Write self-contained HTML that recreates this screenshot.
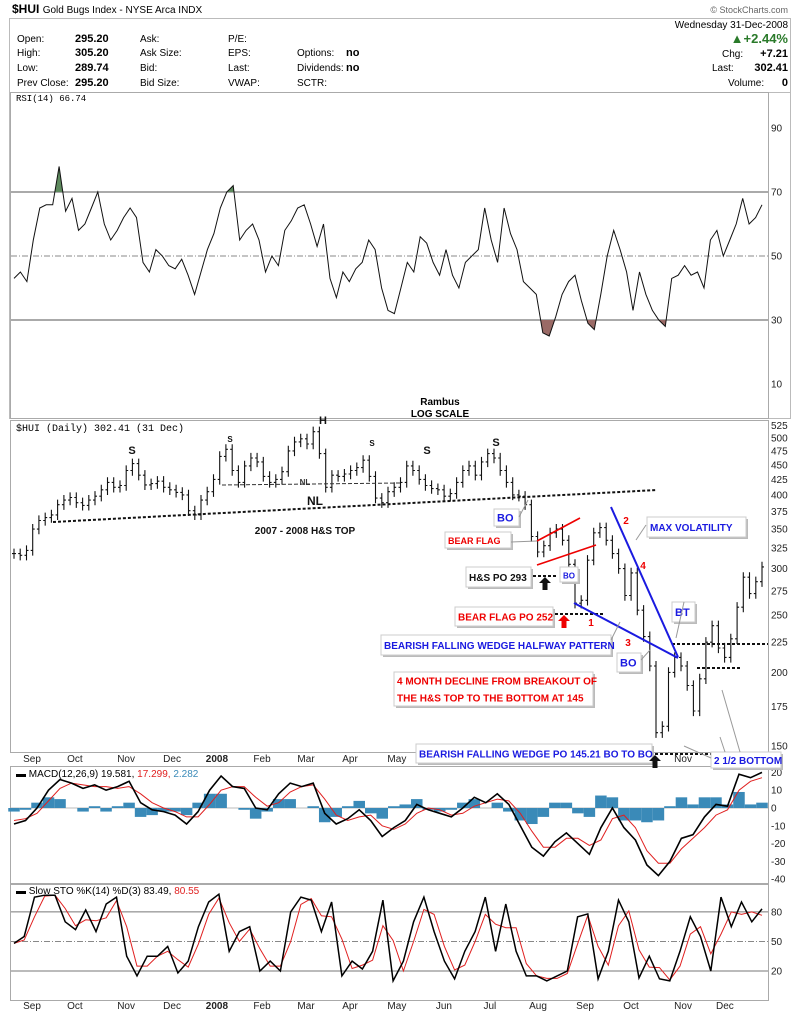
<!DOCTYPE html>
<html><head><meta charset="utf-8">
<style>
body{margin:0;background:#fff;}
svg{display:block;font-family:"Liberation Sans",sans-serif;}
.ax{font-size:10px;fill:#222;}
</style></head>
<body>
<svg id="c" width="800" height="1015" viewBox="0 0 800 1015">
<g>
<text x="12" y="13" font-size="12" font-weight="bold">$HUI <tspan font-size="10" font-weight="normal">Gold Bugs Index - NYSE Arca INDX</tspan></text>
<text x="788" y="13" font-size="9" fill="#666" text-anchor="end">© StockCharts.com</text>
<rect x="9.5" y="18.5" width="781" height="400" fill="none" stroke="#bbb"/>
<g font-size="10">
<text x="17" y="42">Open:</text><text x="75" y="42" font-weight="bold" font-size="11">295.20</text>
<text x="17" y="56">High:</text><text x="75" y="56" font-weight="bold" font-size="11">305.20</text>
<text x="17" y="71">Low:</text><text x="75" y="71" font-weight="bold" font-size="11">289.74</text>
<text x="17" y="86">Prev Close:</text><text x="75" y="86" font-weight="bold" font-size="11">295.20</text>
<text x="140" y="42">Ask:</text><text x="140" y="56">Ask Size:</text><text x="140" y="71">Bid:</text><text x="140" y="86">Bid Size:</text>
<text x="228" y="42">P/E:</text><text x="228" y="56">EPS:</text><text x="228" y="71">Last:</text><text x="228" y="86">VWAP:</text>
<text x="297" y="56">Options:</text><text x="346" y="56" font-weight="bold" font-size="11">no</text>
<text x="297" y="71">Dividends:</text><text x="346" y="71" font-weight="bold" font-size="11">no</text>
<text x="297" y="86">SCTR:</text>
<text x="788" y="28" text-anchor="end">Wednesday  31-Dec-2008</text>
<text x="788" y="43" text-anchor="end" font-size="13" font-weight="bold" fill="#2a7a2a">▲+2.44%</text>
<text x="722" y="57">Chg:</text><text x="788" y="57" text-anchor="end" font-weight="bold" font-size="11">+7.21</text>
<text x="712" y="71">Last:</text><text x="788" y="71" text-anchor="end" font-weight="bold" font-size="11">302.41</text>
<text x="728" y="86">Volume:</text><text x="788" y="86" text-anchor="end" font-weight="bold" font-size="11">0</text>
</g>
<line x1="10" y1="92.5" x2="790" y2="92.5" stroke="#bbb"/>
<text x="16" y="101" font-size="9" font-family="Liberation Mono">RSI(14) 66.74</text>
</g>
<g id="rsi"></g>
<g id="price"></g>
<g id="macd"></g>
<g id="sto"></g>
<g id="ann"></g>
</svg>
<script>
const closes=[318,316,322,350,362,366,370,385,392,396,388,384,392,398,408,420,412,415,440,452,432,416,418,422,412,408,404,400,376,370,392,405,425,465,478,440,420,448,462,455,430,420,425,438,475,492,498,488,512,470,412,432,430,434,440,445,458,430,395,388,405,412,420,448,440,425,415,410,408,398,402,420,440,448,432,455,470,462,440,420,400,398,385,340,320,328,345,350,335,305,262,265,310,345,352,335,318,300,270,295,255,230,205,158,162,200,212,205,190,172,195,225,240,220,212,228,258,290,272,285,302];
const rsiVals=[43,45,42,55,65,66,66,78,64,68,58,60,65,70,60,55,58,62,65,62,48,45,52,50,47,46,49,44,38,45,52,57,65,70,72,55,58,60,55,45,50,47,58,61,65,66,60,53,60,43,37,45,42,46,48,55,52,40,33,32,40,48,45,56,54,48,44,52,44,40,48,50,52,65,55,48,65,57,52,42,40,38,26,25,31,38,42,44,36,29,27,38,50,58,52,45,33,45,38,33,30,28,43,44,47,44,45,40,55,58,50,55,60,68,60,62,66];
const macdVals=[-9,-7,0,10,16,14,11,13,10,12,15,3,-1,-2,-4,-9,-2,10,18,12,11,0,-1,8,14,12,14,-3,-9,-6,-1,-7,-16,-11,-7,2,-1,-3,-5,0,6,3,8,2,-10,-22,-27,-19,-14,-20,-26,-11,0,-11,-18,-32,-38,-30,-17,-15,-5,2,1,19,17,20];
const signalVals=[-7,-6,-3,4,11,14,13,12,12,11,12,8,3,0,-2,-5,-5,2,10,12,12,6,1,3,9,12,13,5,-4,-7,-5,-4,-10,-12,-9,-3,0,-1,-4,-3,1,3,5,4,-3,-13,-22,-22,-17,-17,-21,-18,-6,-4,-11,-24,-31,-31,-23,-17,-11,-4,-1,10,15,17];
const stoK=[48,55,95,97,97,70,62,82,60,88,95,35,15,35,35,45,18,30,65,90,98,40,60,65,20,30,20,80,95,92,60,90,15,30,22,40,92,10,30,70,95,60,30,12,40,60,95,40,88,40,15,15,10,15,20,75,78,12,40,92,70,13,35,12,10,40,75,55,20,95,65,90,70,83];
const months=["Sep","Oct","Nov","Dec","2008","Feb","Mar","Apr","May","Jun","Jul","Aug","Sep","Oct","Nov","Dec"];
const monthDay=[8.3,28.1,51.7,72.9,93.6,114.4,134.7,155,176.6,198.3,219.5,241.7,263.4,284.6,308.6,327.9];
const totalDays=345;
const priceTicks=[525,500,475,450,425,400,375,350,325,300,275,250,225,200,175,150];
const rsiTicks=[90,70,50,30,10];
const macdTicks=[20,10,0,-10,-20,-30,-40];
const stoTicks=[80,50,20];

const NS="http://www.w3.org/2000/svg";
const X0=14,X1=762;
function mk(tag,attrs,parent,txt){const e=document.createElementNS(NS,tag);for(const k in attrs)e.setAttribute(k,attrs[k]);if(txt!==undefined)e.textContent=txt;parent.appendChild(e);return e;}
function xi(i,n){return X0+i*(X1-X0)/(n-1);}
function xd(d){return X0+d*(X1-X0)/totalDays;}
const yRsi=v=>320-(v-30)*3.2;
const yPrice=v=>746-256*Math.log(v/150);
const yMacd=v=>808-v*1.78;
const ySto=v=>971-(v-20)*0.985;
function axisLabels(g,ticks,yf,name){ticks.forEach(t=>{const e=mk('text',{x:771,y:yf(t)+3.5,class:'ax'},g,String(t));});}
function dateAxis(g,y){months.forEach((m,i)=>{const e=mk('text',{x:xd(monthDay[i]),y:y,class:'ax','text-anchor':'middle','font-weight':m==='2008'?'bold':'normal'},g,m);});}
function frame(g,y0,y1,name){const r=mk('rect',{x:10.5,y:y0+.5,width:758,height:y1-y0,fill:'none',stroke:'#aaa'},g);mk('line',{x1:768.5,y1:y0,x2:768.5,y2:y1,stroke:'#aaa'},g);}
function linePath(arr,yf){return arr.map((v,i)=>(i?'L':'M')+xi(i,arr.length).toFixed(1)+','+yf(v).toFixed(1)).join('');}

// RSI
(function(){const g=document.getElementById('rsi');
frame(g,92,418,'rsi');
[70,30].forEach(v=>mk('line',{x1:11,x2:768,y1:yRsi(v),y2:yRsi(v),stroke:'#777','stroke-width':1.2},g));
mk('line',{x1:11,x2:768,y1:yRsi(50),y2:yRsi(50),stroke:'#888','stroke-dasharray':'6,2,1,2'},g);
const defs=mk('defs',{},g);
const c1=mk('clipPath',{id:'above70'},defs);mk('rect',{x:0,y:0,width:800,height:yRsi(70)},c1);
const c2=mk('clipPath',{id:'below30'},defs);mk('rect',{x:0,y:yRsi(30),width:800,height:200},c2);
const p=linePath(rsiVals,yRsi);const n=rsiVals.length;
const a1=mk('path',{d:p+'L'+xi(n-1,n)+','+yRsi(70)+'L'+X0+','+yRsi(70)+'Z',fill:'#5e8a5e','clip-path':'url(#above70)'},g);

const a2=mk('path',{d:p+'L'+xi(n-1,n)+','+yRsi(30)+'L'+X0+','+yRsi(30)+'Z',fill:'#9a6a66','clip-path':'url(#below30)'},g);

const l=mk('path',{d:p,fill:'none',stroke:'#111','stroke-width':1},g);

axisLabels(g,rsiTicks,yRsi,'rsi');
mk('text',{x:440,y:405,'font-size':10,'font-weight':'bold','text-anchor':'middle'},g,'Rambus');
mk('text',{x:440,y:417,'font-size':10,'font-weight':'bold','text-anchor':'middle'},g,'LOG SCALE');
})();

// Price
(function(){const g=document.getElementById('price');
frame(g,420,752,'price');
mk('text',{x:16,y:431,'font-size':10,'font-family':'Liberation Mono'},g,'$HUI (Daily) 302.41 (31 Dec)');
axisLabels(g,priceTicks,yPrice,'price');
const n=closes.length;
closes.forEach((c,i)=>{const prev=i?closes[i-1]:c;const hi=Math.max(prev,c)*1.02,lo=Math.min(prev,c)*0.98;const x=xi(i,n);
const b=mk('path',{d:`M${x.toFixed(1)},${yPrice(hi).toFixed(1)}V${yPrice(lo).toFixed(1)}M${(x-2).toFixed(1)},${yPrice(prev).toFixed(1)}H${x.toFixed(1)}M${x.toFixed(1)},${yPrice(c).toFixed(1)}H${(x+2).toFixed(1)}`,stroke:'#111','stroke-width':1.1,fill:'none'},g);
});
dateAxis(g,762);
})();

// MACD
(function(){const g=document.getElementById('macd');
frame(g,766,883,'macd');
mk('line',{x1:11,x2:768,y1:yMacd(0),y2:yMacd(0),stroke:'#bbb'},g);
const n=macdVals.length;const w=(X1-X0)/(n-1);
macdVals.forEach((m,i)=>{const h=m-signalVals[i];const y0=yMacd(0),y1=yMacd(h);
const r=mk('rect',{x:xi(i,n)-w/2,y:Math.min(y0,y1),width:w,height:Math.abs(y1-y0),fill:'#3a8ab8'},g);
});
const s=mk('path',{d:linePath(signalVals,yMacd),fill:'none',stroke:'#e02020','stroke-width':1},g);

const m=mk('path',{d:linePath(macdVals,yMacd),fill:'none',stroke:'#000','stroke-width':1.6},g);

axisLabels(g,macdTicks,yMacd,'macd');
const t=mk('text',{x:16,y:777,'font-size':10},g);t.innerHTML='<tspan>▬ MACD(12,26,9) 19.581, </tspan><tspan fill="#e02020">17.299, </tspan><tspan fill="#3a8ab8">2.282</tspan>';
})();

// STO
(function(){const g=document.getElementById('sto');
frame(g,884,1000,'sto');
[80,20].forEach(v=>mk('line',{x1:11,x2:768,y1:ySto(v),y2:ySto(v),stroke:'#777'},g));
mk('line',{x1:11,x2:768,y1:ySto(50),y2:ySto(50),stroke:'#888','stroke-dasharray':'6,2,1,2'},g);
const d=stoK.map((v,i)=>i?(v+stoK[i-1])/2:v);
const dl=mk('path',{d:linePath(d,ySto),fill:'none',stroke:'#e02020','stroke-width':1},g);

const kl=mk('path',{d:linePath(stoK,ySto),fill:'none',stroke:'#000','stroke-width':1.5},g);

axisLabels(g,stoTicks,ySto,'sto');
const t=mk('text',{x:16,y:894,'font-size':10},g);t.innerHTML='<tspan>▬ Slow STO %K(14) %D(3) 83.49, </tspan><tspan fill="#e02020">80.55</tspan>';
dateAxis(g,1009);
})();

// Annotations
(function(){const g=document.getElementById('ann');
const L=(x1,y1,x2,y2,c,w,da)=>mk('line',{x1,y1,x2,y2,stroke:c,'stroke-width':w,'stroke-dasharray':da||'none'},g);
L(53,522,657,490,'#111',2,'3,2');
L(222,485,400,483,'#333',1,'4,2');
L(533,576,558,576,'#111',2,'3,2');
L(555,614,605,614,'#111',2,'3,2');
L(672,644,768,644,'#111',2,'3,2');
L(697,668,740,668,'#111',2,'3,2');
L(650,754,768,754,'#111',2,'3,2');
L(537,541,580,518,'#e00',1.6);L(537,565,596,545,'#e00',1.6);
L(574,603,678,658,'#1a1ae0',2);L(611,507,678,657,'#1a1ae0',2);
const T=(x,y,s,c,sz,anchor)=>mk('text',{x,y,fill:c,'font-size':sz,'font-weight':'bold','text-anchor':anchor||'start'},g,s);
T(132,454,'S','#111',11,'middle');T(230,442,'S','#111',8,'middle');T(323,424,'H','#111',11,'middle');
T(372,446,'S','#111',8,'middle');T(427,454,'S','#111',11,'middle');T(496,446,'S','#111',11,'middle');
T(305,485,'NL','#333',8,'middle');T(315,505,'NL','#111',12,'middle');
T(305,534,'2007 - 2008 H&S TOP','#111',10,'middle');
T(626,524,'2','#e00',10,'middle');T(643,569,'4','#e00',10,'middle');T(591,626,'1','#e00',10,'middle');T(628,646,'3','#e00',10,'middle');
const B=(x,y,w,h,lines,c,sz,name)=>{const gg=mk('g',{},g);
mk('rect',{x:x+2,y:y+2,width:w,height:h,fill:'#bbb'},gg);mk('rect',{x,y,width:w,height:h,fill:'#fff',stroke:'#ccc'},gg);
lines.forEach((s,i)=>mk('text',{x:x+3,y:y+h/lines.length*(i+1)-h/lines.length/2+4,fill:c,'font-size':sz,'font-weight':'bold'},gg,s));};
B(494,509,25,17,['BO'],'#1a1ae0',11,'bo-callout');
B(445,532,66,16,['BEAR FLAG'],'#e00',9,'bear-flag-callout');
B(466,567,65,20,['H&S PO 293'],'#111',10,'hs-po-callout');
B(560,567,18,15,['BO'],'#1a1ae0',8,'bo-small-callout');
B(455,607,98,19,['BEAR FLAG PO 252'],'#e00',10,'bear-flag-po-callout');
B(381,635,230,20,['BEARISH FALLING WEDGE HALFWAY PATTERN'],'#1a1ae0',10,'wedge-halfway-callout');
B(647,517,99,20,['MAX VOLATILITY'],'#1a1ae0',10,'max-volatility-callout');
B(672,602,23,20,['BT'],'#1a1ae0',11,'bt-callout');
B(617,653,24,19,['BO'],'#1a1ae0',11,'bo-lower-callout');
B(394,672,199,34,['4 MONTH DECLINE FROM BREAKOUT OF','THE H&S TOP TO THE BOTTOM AT 145'],'#e00',10,'decline-callout');
B(416,744,236,19,['BEARISH FALLING WEDGE PO 145.21 BO TO BO'],'#1a1ae0',10,'wedge-po-callout');
B(711,752,70,16,['2 1/2 BOTTOM'],'#1a1ae0',10,'bottom-callout');
L(519,517,528,500,'#999',1);L(511,542,537,541,'#999',1);L(611,640,620,622,'#999',1);
L(646,525,636,540,'#999',1);L(684,602,676,638,'#999',1);L(641,660,650,650,'#999',1);
L(711,758,684,746,'#999',1);L(725,752,720,737,'#999',1);L(740,752,722,690,'#999',1);
const A=(x,y,c)=>{const p=mk('path',{d:`M${x},${y}l-6,6h3.5v7h5v-7h3.5z`,fill:c},g);};
A(545,577,'#111');A(564,615,'#e00');A(655,755,'#111');
})();
</script>
</body></html>
